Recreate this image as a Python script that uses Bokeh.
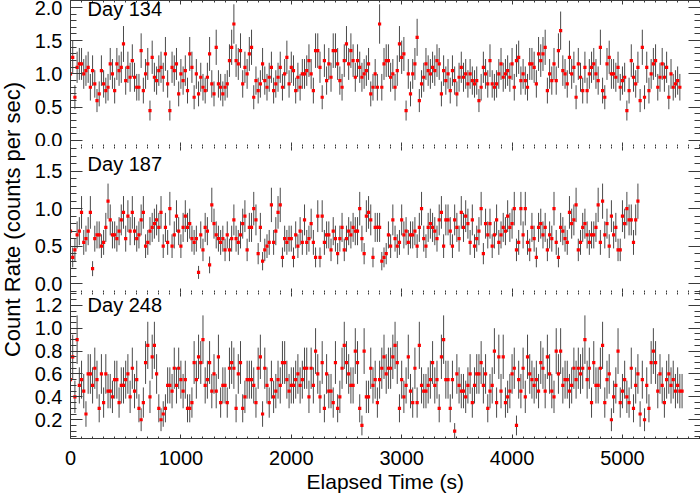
import numpy as np
from bokeh.plotting import figure
from bokeh.models import Range1d, LinearAxis, SingleIntervalTicker, PrintfTickFormatter, Label
from bokeh.layouts import column, row
from bokeh.embed import file_html
from bokeh.resources import INLINE

# ---------------- data ----------------
BIN = 20.0  # seconds per bin
days = ["Day 134", "Day 187", "Day 248"]

day134_rate = [
    1.0, 1.25, 0.65, 1.1, 1.15, 1.15, 1.0, 1.05, 1.1, 0.8,
    1.05, 0.85, 0.6, 0.7, 1.05, 0.85, 0.75, 0.8, 1.15, 1.0,
    0.75, 1.15, 1.05, 1.1, 1.45, 0.9, 1.1, 0.95, 1.2, 0.95,
    0.8, 0.8, 1.35, 0.75, 1.0, 1.15, 0.45, 1.25, 0.95, 0.9,
    1.05, 1.1, 0.95, 1.3, 0.85, 0.45, 1.1, 1.05, 1.15, 0.7,
    1.0, 0.9, 1.05, 0.75, 1.3, 1.1, 0.65, 1.0, 0.7, 0.95,
    0.8, 0.75, 0.95, 1.3, 0.85, 0.7, 1.4, 0.85, 0.8, 0.7,
    0.8, 0.85, 1.2, 1.4, 1.75, 1.2, 1.15, 1.35, 0.85, 1.1,
    1.0, 1.3, 1.4, 0.65, 0.9, 0.75, 0.85, 1.15, 0.9, 0.8,
    0.95, 1.1, 0.75, 0.85, 0.95, 1.1, 0.8, 1.0, 1.25, 0.85,
    1.1, 1.05, 0.75, 0.95, 0.8, 1.0, 1.0, 1.05, 1.2, 1.0,
    0.75, 1.35, 1.35, 1.1, 0.65, 1.2, 0.9, 1.15, 0.95, 1.35,
    1.35, 1.15, 0.9, 0.8, 1.2, 1.45, 1.15, 1.35, 1.2, 0.95,
    1.2, 1.1, 0.95, 1.0, 1.05, 1.15, 0.7, 0.8, 1.0, 0.8,
    1.75, 0.8, 1.15, 1.2, 1.2, 0.95, 1.0, 0.8, 1.05, 1.45,
    1.25, 1.3, 0.45, 1.0, 0.7, 1.0, 1.15, 1.55, 0.6, 0.85,
    0.95, 1.15, 1.05, 1.0, 1.1, 1.05, 1.2, 1.15, 0.7, 1.05,
    0.9, 1.0, 0.75, 1.05, 0.9, 0.7, 0.95, 1.1, 0.95, 1.0,
    0.85, 1.0, 0.9, 0.85, 0.9, 0.6, 0.8, 1.1, 1.0, 0.85,
    1.2, 0.85, 0.8, 0.85, 1.0, 1.15, 0.95, 1.0, 1.05, 0.95,
    1.15, 0.8, 1.2, 1.25, 0.9, 1.0, 0.9, 0.8, 1.15, 1.15,
    1.1, 0.85, 1.3, 1.2, 1.3, 1.4, 0.75, 1.0, 0.9, 1.15,
    0.9, 1.35, 1.65, 1.05, 1.0, 0.85, 1.25, 1.0, 1.1, 0.65,
    1.15, 0.95, 0.75, 1.1, 0.75, 1.0, 1.1, 1.15, 1.0, 0.9,
    1.4, 0.75, 0.65, 1.15, 1.25, 1.0, 1.0, 0.95, 1.1, 0.8,
    0.9, 0.95, 0.45, 0.75, 1.2, 0.95, 0.85, 1.1, 0.6, 1.4,
    0.65, 1.1, 0.75, 1.0, 1.15, 1.2, 0.8, 0.95, 1.15, 0.95,
    1.1, 0.65, 1.0, 0.8, 0.85, 0.9, 0.8,
]

day187_rate = [
    0.7, 0.35, 0.45, 0.65, 0.7, 0.95, 0.55, 0.6, 0.7, 0.95,
    0.2, 0.6, 0.65, 0.65, 0.5, 0.55, 0.75, 1.1, 0.85, 0.65,
    0.65, 0.6, 0.7, 0.85, 0.95, 0.6, 0.9, 0.7, 0.95, 0.7,
    0.6, 0.65, 0.85, 0.95, 0.5, 0.55, 0.7, 0.75, 0.8, 0.85,
    0.75, 0.95, 0.5, 0.75, 0.55, 1.0, 0.5, 0.65, 0.9, 0.7,
    0.5, 0.75, 0.9, 0.75, 0.8, 0.6, 0.55, 0.6, 0.15, 0.65,
    0.45, 0.75, 0.7, 0.25, 1.05, 0.8, 0.65, 0.6, 0.55, 0.6,
    0.45, 0.65, 0.45, 0.6, 0.85, 0.6, 0.55, 0.65, 0.8, 0.9,
    0.45, 0.75, 0.75, 1.0, 0.85, 0.4, 0.75, 0.3, 0.45, 0.5,
    0.55, 1.05, 0.55, 0.7, 0.95, 1.05, 0.35, 0.6, 0.55, 0.6,
    0.6, 0.35, 0.65, 0.5, 0.7, 0.55, 0.85, 0.55, 0.6, 0.8,
    0.55, 0.35, 0.9, 0.35, 0.9, 0.55, 0.65, 0.65, 0.45, 0.7,
    0.6, 0.4, 0.6, 0.75, 0.45, 0.6, 0.7, 0.65, 0.75, 0.7,
    0.7, 1.0, 0.6, 0.4, 0.9, 0.95, 0.85, 0.35, 0.75, 0.75,
    0.75, 0.3, 0.35, 0.4, 0.65, 0.5, 0.85, 0.6, 0.5, 0.55,
    0.85, 0.65, 0.7, 0.55, 0.65, 0.65, 0.7, 0.5, 0.75, 1.0,
    0.6, 0.5, 0.75, 0.8, 0.75, 0.7, 0.6, 0.85, 0.95, 0.5,
    0.85, 0.85, 0.7, 0.5, 0.85, 0.75, 0.6, 0.95, 0.75, 0.9,
    0.8, 0.55, 0.85, 0.5, 0.6, 0.7, 1.0, 0.4, 0.8, 0.65,
    0.8, 0.5, 0.65, 0.85, 0.55, 0.65, 0.75, 0.7, 0.9, 0.75,
    0.8, 1.0, 0.45, 0.55, 1.0, 0.65, 1.0, 0.55, 0.45, 0.75,
    0.6, 0.35, 0.75, 0.8, 0.65, 0.75, 0.45, 0.65, 0.6, 1.0,
    0.55, 0.35, 0.75, 0.7, 0.6, 0.55, 0.95, 0.8, 0.85, 1.05,
    0.45, 0.55, 0.75, 0.8, 0.65, 0.55, 0.65, 0.65, 0.75, 1.05,
    0.55, 1.1, 0.65, 0.8, 0.5, 0.9, 0.65, 0.75, 0.45, 0.45,
    0.9, 0.8, 1.0, 0.85, 0.85, 0.55, 0.85, 1.1,
]

day248_rate = [
    0.55, 0.75, 0.4, 0.9, 0.5, 0.55, 0.45, 0.25, 0.6, 0.6,
    0.5, 0.65, 0.55, 0.3, 0.6, 0.35, 0.6, 0.45, 0.45, 0.4,
    0.55, 0.55, 0.35, 0.5, 0.5, 0.55, 0.6, 0.4, 0.65, 0.45,
    0.55, 0.3, 0.2, 0.35, 0.7, 0.85, 0.4, 0.75, 0.85, 0.6,
    0.3, 0.2, 0.25, 0.3, 0.5, 0.5, 0.45, 0.65, 0.5, 0.65,
    0.55, 0.45, 0.55, 0.3, 0.3, 0.35, 0.7, 0.55, 0.75, 0.7,
    0.9, 0.5, 0.55, 0.7, 0.45, 0.6, 0.45, 0.75, 0.35, 0.5,
    0.5, 0.35, 0.65, 0.7, 0.65, 0.3, 0.6, 0.7, 0.3, 0.4,
    0.55, 0.55, 0.55, 0.5, 0.35, 0.65, 0.75, 0.25, 0.65, 0.5,
    0.35, 0.55, 0.4, 0.45, 0.55, 0.5, 0.7, 0.7, 0.55, 0.45,
    0.5, 0.5, 0.55, 0.6, 0.5, 0.55, 0.65, 0.65, 0.4, 0.65,
    0.5, 0.8, 0.6, 0.4, 0.7, 0.3, 0.6, 0.45, 0.45, 0.35,
    0.7, 0.3, 0.4, 0.65, 0.85, 0.7, 0.6, 0.5, 0.5, 0.8,
    0.7, 0.3, 0.15, 0.8, 0.4, 0.4, 0.65, 0.5, 0.55, 0.35,
    0.55, 0.65, 0.75, 0.6, 0.65, 0.65, 0.75, 0.85, 0.7, 0.3,
    0.55, 0.4, 0.5, 0.75, 0.45, 0.35, 0.65, 0.35, 0.85, 0.5,
    0.45, 0.45, 0.5, 0.55, 0.7, 0.5, 0.55, 0.3, 0.75, 0.9,
    0.55, 0.55, 0.3, 0.55, 0.1, 0.6, 0.5, 0.45, 0.45, 0.4,
    0.5, 0.6, 0.35, 0.5, 0.6, 0.6, 0.7, 0.5, 0.6, 0.3,
    0.45, 0.5, 0.8, 0.35, 0.75, 0.45, 0.75, 0.35, 0.4, 0.45,
    0.6, 0.65, 0.15, 0.55, 0.45, 0.65, 0.4, 0.75, 0.6, 0.55,
    0.5, 0.55, 0.45, 0.7, 0.65, 0.45, 0.75, 0.6, 0.45, 0.4,
    0.8, 0.6, 0.8, 0.5, 0.55, 0.55, 0.45, 0.5, 0.65, 0.55,
    0.65, 0.6, 0.65, 0.9, 0.55, 0.65, 0.35, 0.7, 0.5, 0.5,
    0.65, 0.85, 0.35, 0.55, 0.6, 0.2, 0.4, 0.5, 0.8, 0.35,
    0.45, 0.55, 0.4, 0.35, 0.65, 0.3, 0.5, 0.6, 0.25, 0.55,
    0.2, 0.5, 0.3, 0.7, 0.8, 0.7, 0.45, 0.6, 0.5, 0.35,
    0.55, 0.6, 0.5, 0.55, 0.45, 0.5, 0.45, 0.45,
]

rates = [day134_rate, day187_rate, day248_rate]
y_limits = [(-0.09, 2.103), (-0.118, 1.829), (0.036, 1.312)]
y_major = [0.5, 0.5, 0.2]
y_minor_n = [5, 5, 4]
day_label_y = [1.97, 1.59, 1.20]
X_END = 5707
x_major = 1000

# ---------------- style ----------------
FONT = "Liberation Sans"
AX = "#3a3a3a"
FRAME_W = 630
FRAME_H = 146
LAB_W = 26


def style_axis(ax, ticker, tin, tmin, show_labels, fmt=None, line=True):
    ax.ticker = ticker
    ax.major_tick_in = tin
    ax.major_tick_out = 0
    ax.minor_tick_in = tmin
    ax.minor_tick_out = 0
    ax.axis_line_color = AX if line else None
    ax.major_tick_line_color = AX
    ax.minor_tick_line_color = AX
    if fmt is not None:
        ax.formatter = fmt
    if show_labels:
        ax.major_label_text_font = FONT
        ax.major_label_text_font_size = "20px"
        ax.major_label_text_color = "black"
    else:
        ax.major_label_text_font_size = "0px"
        ax.major_label_text_color = None
        ax.major_label_standoff = 0
        ax.axis_label = None


panels = []
for k in range(3):
    r = np.array(rates[k], dtype=float)
    t = np.arange(len(r)) * BIN
    err = np.sqrt(r * BIN) / BIN
    p = figure(frame_width=FRAME_W, frame_height=FRAME_H,
               x_range=Range1d(0, X_END), y_range=Range1d(*y_limits[k]),
               output_backend="svg", toolbar_location=None, title=None,
               min_border_left=70 - LAB_W, min_border_right=0,
               min_border_top=0, min_border_bottom=0,
               background_fill_color="white", border_fill_color="white")
    p.outline_line_color = None
    p.grid.visible = False

    p.segment(x0=t, y0=r - err, x1=t, y1=r + err, line_color="#4a4a4a", line_width=1)
    p.scatter(t, r, marker="square", size=3.2, fill_color="#ff0000", line_color=None)

    top = LinearAxis()
    right = LinearAxis()
    p.add_layout(top, "above")
    p.add_layout(right, "right")

    yfmt = PrintfTickFormatter(format="%.1f")
    style_axis(p.left[0], SingleIntervalTicker(interval=y_major[k], num_minor_ticks=y_minor_n[k]),
               12, 6, True, yfmt)
    p.left[0].major_label_standoff = 8
    style_axis(right, SingleIntervalTicker(interval=y_major[k], num_minor_ticks=y_minor_n[k]),
               12, 6, False, line=False)
    style_axis(top, SingleIntervalTicker(interval=x_major, num_minor_ticks=10), 4, 2, False,
               line=(k == 0))
    for ax in p.below:
        if k == 2:
            style_axis(ax, SingleIntervalTicker(interval=x_major, num_minor_ticks=10), 4, 2, True)
            ax.major_label_standoff = 12
            ax.axis_label = "Elapsed Time (s)"
            ax.axis_label_text_font = FONT
            ax.axis_label_text_font_size = "21px"
            ax.axis_label_text_font_style = "normal"
            ax.axis_label_text_color = "black"
            ax.axis_label_standoff = 2
        else:
            style_axis(ax, SingleIntervalTicker(interval=x_major, num_minor_ticks=10), 4, 2, False)

    p.add_layout(Label(x=155, y=day_label_y[k], text=days[k], text_font=FONT,
                       text_font_size="20px", text_align="left", text_baseline="middle",
                       text_color="black"))
    panels.append(p)

H = 499
lab = figure(width=LAB_W, height=H, x_range=Range1d(0, 1), y_range=Range1d(0, H),
             x_axis_type=None, y_axis_type=None, output_backend="svg",
             toolbar_location=None, title=None, min_border=0,
             background_fill_color="white", border_fill_color="white")
lab.outline_line_color = None
lab.add_layout(Label(x=0.45, y=H - 219, text="Count Rate (counts per sec)", angle=np.pi / 2,
                     text_font=FONT, text_font_size="22px", text_align="center",
                     text_baseline="middle", text_color="black"))

layout = row(lab, column(*panels))
open("out.html", "w").write(file_html(layout, INLINE))
